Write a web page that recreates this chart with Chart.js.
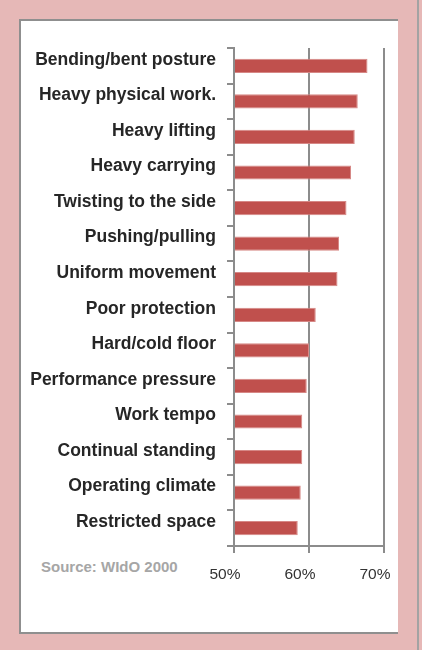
<!DOCTYPE html>
<html>
<head>
<meta charset="utf-8">
<script src="https://cdn.jsdelivr.net/npm/chart.js@4"></script>
<style>
  html, body { margin: 0; padding: 0; }
  body { width: 422px; height: 650px; background: #e6b8b7; position: relative; overflow: hidden; }
  #panel { position: absolute; left: 19px; top: 19px; width: 379px; height: 615px; box-sizing: border-box;
           background: #fff; border-left: 2px solid #8f8f8f; border-top: 2px solid #8f8f8f; border-bottom: 2px solid #8f8f8f; }
  #edge { position: absolute; left: 417px; top: 0; width: 2px; height: 650px; background: #a3a3a3; }
  #source { position: absolute; left: 41px; top: 558px; font: bold 15px "Liberation Sans", Arial, sans-serif; color: #a6a6a6; }
  #chart { position: absolute; left: 0; top: 0; }
</style>
</head>
<body>
<div id="panel"></div>
<div id="edge"></div>
<div id="source">Source: WIdO 2000</div>
<canvas id="chart" width="422" height="650"></canvas>
<script>
    const categories = [
        'Bending/bent posture',
        'Heavy physical work.',
        'Heavy lifting',
        'Heavy carrying',
        'Twisting to the side',
        'Pushing/pulling',
        'Uniform movement',
        'Poor protection',
        'Hard/cold floor',
        'Performance pressure',
        'Work tempo',
        'Continual standing',
        'Operating climate',
        'Restricted space'
    ];
    const shares = [67.8, 66.5, 66.1, 65.6, 65.0, 64.0, 63.8, 60.9, 60.0, 59.7, 59.1, 59.1, 58.9, 58.5];
    const xTicks = [50, 60, 70];

    const axisGray = '#8c8c8c';

    const ctx = document.getElementById('chart').getContext('2d');
    new Chart(ctx, {
        type: 'bar',
        data: {
            labels: categories,
            datasets: [{
                data: shares,
                backgroundColor: '#c0504d',
                borderColor: '#d68886',
                borderWidth: 1,
                borderSkipped: 'left',
                barPercentage: 0.4,
                categoryPercentage: 1
            }]
        },
        options: {
            indexAxis: 'y',
            responsive: false,
            animation: false,
            layout: { padding: { top: 48, right: 38, left: 0, bottom: 0 } },
            plugins: {
                legend: { display: false },
                tooltip: { enabled: false }
            },
            scales: {
                x: {
                    min: xTicks[0],
                    max: xTicks[xTicks.length - 1],
                    afterFit: function (scale) { scale.height = 104; },
                    afterBuildTicks: function (scale) { scale.ticks = xTicks.map(v => ({ value: v })); },
                    grid: { color: axisGray, lineWidth: 2, drawOnChartArea: true, drawTicks: true, tickLength: 7 },
                    border: { display: true, color: axisGray, width: 2 },
                    ticks: {
                        padding: 12,
                        labelOffset: -9,
                        color: '#333333',
                        font: { family: 'Liberation Sans', size: 15.5 },
                        callback: function (v) { return v + '%'; }
                    }
                },
                y: {
                    offset: true,
                    afterFit: function (scale) { scale.width = 234; },
                    grid: { offset: true, color: axisGray, lineWidth: 2, drawOnChartArea: false, drawTicks: true, tickLength: 7 },
                    border: { display: true, color: axisGray, width: 2, z: 1 },
                    ticks: {
                        padding: 11,
                        labelOffset: -6,
                        color: '#262626',
                        font: { family: 'Liberation Sans', size: 17.5, weight: 'bold' }
                    }
                }
            }
        }
    });
</script>
</body>
</html>
